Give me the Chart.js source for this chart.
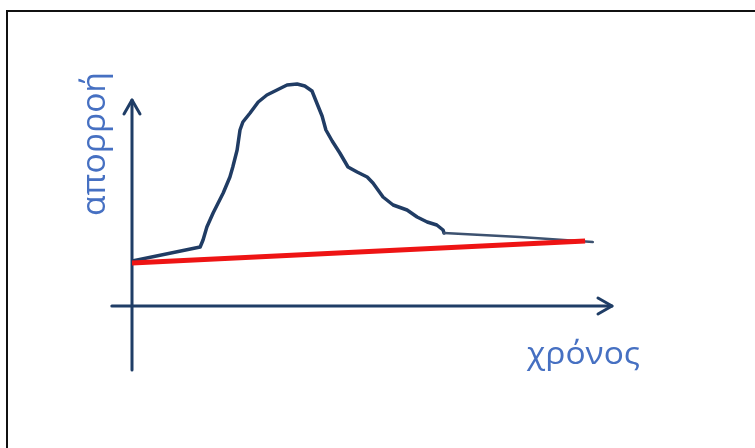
<!DOCTYPE html>
<html>
<head>
<meta charset="utf-8">
<title>απορροή – χρόνος</title>
<script src="https://cdn.jsdelivr.net/npm/chart.js@4"></script>
<style>
  html, body { margin: 0; padding: 0; background: #ffffff; overflow: hidden; }
  #wrap { position: relative; width: 755px; height: 448px; }
  #frame {
    position: absolute; left: 6px; top: 10px; width: 800px; height: 500px;
    border: 2px solid #111111; box-sizing: border-box; pointer-events: none;
  }
  canvas { position: absolute; left: 0; top: 0; }
</style>
</head>
<body>
<div id="wrap">
  <canvas id="chart" width="755" height="448"></canvas>
  <div id="frame"></div>
</div>
<script>
// Hydrograph: runoff over time (arbitrary units)
const hydroTime = [0, 14.2, 14.8, 15.6, 16.9, 19.0, 20.4, 21.0, 21.9, 22.5, 23.1, 24.6, 26.3, 28.1, 30.2,
  32.3, 34.4, 36.0, 37.5, 38.5, 39.6, 40.4, 41.7, 43.3, 45.0, 46.9, 49.0, 50.2, 52.3, 54.4, 57.3,
  59.4, 61.5, 63.5, 64.8, 65.0, 80.8, 96.0];
const hydroFlow = [22.5, 29.5, 33, 39.5, 46.5, 56.5, 64.5, 69.5, 78, 88, 92, 96.5, 102, 105.5, 108,
  110.5, 111, 110, 107.5, 101.5, 95, 88, 82.5, 76.5, 69.5, 67, 64.5, 61.5, 54.5, 50.5, 48,
  44.5, 42, 40.5, 38, 36.5, 34.5, 32];

// Baseflow separation line
const baseTime = [0, 94.4];
const baseFlow = [21.5, 32.5];

// Axis labels
const yAxisLabel = 'απορροή';
const xAxisLabel = 'χρόνος';

const toPoints = (xs, ys) => xs.map((x, i) => ({ x, y: ys[i] }));

const axisColor = '#1f3d66';
const labelColor = '#4670c2';
const labelFont = '"Open Sans", "Noto Sans", sans-serif';

// Draw a label stretched to a given length along its reading direction
function fittedText(ctx, text, x, y, size, length, rotation) {
  ctx.save();
  ctx.font = size + 'px ' + labelFont;
  const w = ctx.measureText(text).width;
  ctx.translate(x, y);
  ctx.rotate(rotation);
  ctx.scale(length / w, 1);
  ctx.fillStyle = labelColor;
  ctx.textAlign = 'left';
  ctx.textBaseline = 'alphabetic';
  ctx.fillText(text, 0, 0);
  ctx.restore();
}

const axesPlugin = {
  id: 'arrowAxes',
  beforeDatasetsDraw(chart) {
    const { ctx, scales: { x, y } } = chart;
    const ox = x.getPixelForValue(0);
    const oy = y.getPixelForValue(0);
    const yTop = y.getPixelForValue(103);
    const yBottom = y.getPixelForValue(-32);
    const xLeft = x.getPixelForValue(-4.2);
    const xRight = x.getPixelForValue(100);
    ctx.save();
    ctx.strokeStyle = axisColor;
    ctx.lineWidth = 3;
    ctx.lineCap = 'round';
    ctx.lineJoin = 'round';
    // vertical axis
    ctx.beginPath();
    ctx.moveTo(ox, yBottom);
    ctx.lineTo(ox, yTop);
    ctx.stroke();
    ctx.beginPath();
    ctx.moveTo(ox - 8, yTop + 14);
    ctx.lineTo(ox, yTop);
    ctx.lineTo(ox + 8, yTop + 14);
    ctx.stroke();
    // horizontal axis
    ctx.beginPath();
    ctx.moveTo(xLeft, oy);
    ctx.lineTo(xRight, oy);
    ctx.stroke();
    ctx.beginPath();
    ctx.moveTo(xRight - 14, oy - 8);
    ctx.lineTo(xRight, oy);
    ctx.lineTo(xRight - 14, oy + 8);
    ctx.stroke();
    ctx.restore();
  },
  afterDraw(chart) {
    const { ctx } = chart;
    fittedText(ctx, yAxisLabel, 105, 216, 32, 144, -Math.PI / 2);
    fittedText(ctx, xAxisLabel, 527, 364, 31, 113, 0);
  }
};

new Chart(document.getElementById('chart'), {
  type: 'line',
  data: {
    datasets: [
      {
        label: 'baseflow',
        data: toPoints(baseTime, baseFlow),
        borderColor: '#ee1414',
        borderWidth: 5,
        pointRadius: 0,
        tension: 0,
        order: 0
      },
      {
        label: 'runoff',
        data: toPoints(hydroTime, hydroFlow),
        borderColor: '#203c64',
        borderWidth: 3.5,
        pointRadius: 0,
        tension: 0,
        borderCapStyle: 'round',
        borderJoinStyle: 'round',
        segment: {
          borderWidth: c => (c.p0.parsed.x >= 65 ? 2.5 : 3.5),
          borderColor: c => (c.p0.parsed.x >= 65 ? '#3d5270' : '#203c64')
        },
        order: 1
      }
    ]
  },
  options: {
    responsive: false,
    animation: false,
    events: [],
    layout: { padding: { left: 132, right: 143, top: 66, bottom: 142 } },
    plugins: { legend: { display: false }, tooltip: { enabled: false } },
    scales: {
      x: { type: 'linear', min: 0, max: 100, display: false },
      y: { type: 'linear', min: 0, max: 120, display: false }
    }
  },
  plugins: [axesPlugin]
});
</script>
</body>
</html>
